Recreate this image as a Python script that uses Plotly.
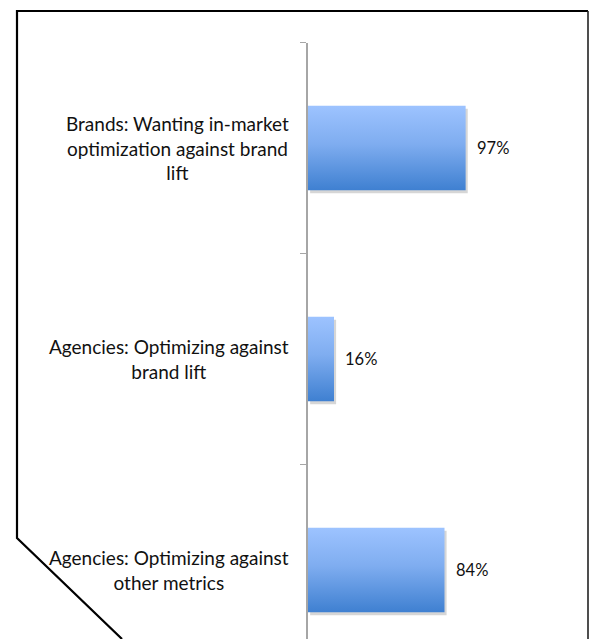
import plotly.graph_objects as go

# Survey results
categories = [
    "Brands: Wanting in-market<br>optimization against brand<br>lift",
    "Agencies: Optimizing against<br>brand lift",
    "Agencies: Optimizing against<br>other metrics",
]
values = [97, 16, 84]
value_labels = ["97%", "16%", "84%"]

W, H = 591, 639
BAR_HALF = 0.2
TOP_COLOR = "#9dc3ff"
BOTTOM_COLOR = "#3f80d1"
FONT = "Lato, 'Open Sans', sans-serif"

# pixel-based layout helpers (figure margins are zero, so paper == page)
def px(x):
    return x / W

def py(y):
    return 1 - y / H

fig = go.Figure()

for i, v in enumerate(values):
    # soft drop shadow under each bar
    sx, sy = 1.3, 0.014
    fig.add_trace(go.Scatter(
        x=[sx, v + sx, v + sx, sx, sx],
        y=[i - BAR_HALF + sy, i - BAR_HALF + sy, i + BAR_HALF + sy, i + BAR_HALF + sy, i - BAR_HALF + sy],
        mode="lines", line=dict(width=0), fill="toself",
        fillcolor="rgba(0,0,0,0.16)", hoverinfo="skip", showlegend=False,
    ))
    # bar with vertical gradient fill (light on top, darker at the bottom)
    fig.add_trace(go.Scatter(
        x=[0, v, v, 0, 0],
        y=[i - BAR_HALF, i - BAR_HALF, i + BAR_HALF, i + BAR_HALF, i - BAR_HALF],
        mode="lines", line=dict(width=0), fill="toself",
        fillgradient=dict(type="vertical",
                          colorscale=[[0, BOTTOM_COLOR], [0.55, "#7fadf0"], [1, TOP_COLOR]]),
        hoverinfo="skip", showlegend=False,
    ))

annotations = []
for i, (cat, v, lab) in enumerate(zip(categories, values, value_labels)):
    annotations.append(dict(
        x=px(291), xref="paper", y=i, yref="y", text=cat,
        xanchor="right", yanchor="middle", align="center", showarrow=False,
        font=dict(family=FONT, size=19, color="#111111"),
    ))
    annotations.append(dict(
        x=v, xref="x", y=i, yref="y", text=lab, xanchor="left", yanchor="middle",
        xshift=9, showarrow=False,
        font=dict(family=FONT, size=16.5, color="#111111"),
    ))

top_px = 42.5
unit_px = 211.0
y_bottom = -0.5 + (H - top_px) / unit_px
x_scale = 1.625
x_left_px = 308
x_max = (W - x_left_px) / x_scale

# frame: left edge with cut corner, top edge, right edge
frame = (f"M {px(122)},{py(639)} L {px(17)},{py(538)} L {px(17)},{py(11)} "
         f"L {px(588)},{py(11)}")
shapes = [
    dict(type="path", xref="paper", yref="paper", path=frame,
         line=dict(color="#000000", width=2.2)),
    dict(type="line", xref="paper", yref="paper", x0=px(588), x1=px(588),
         y0=py(11), y1=py(639), line=dict(color="#222222", width=1.6)),
]

fig.update_layout(
    width=W, height=H,
    margin=dict(l=0, r=0, t=0, b=0),
    paper_bgcolor="white", plot_bgcolor="white",
    xaxis=dict(domain=[px(x_left_px), 1], range=[0, x_max], visible=False, fixedrange=True),
    yaxis=dict(domain=[0, py(top_px)], range=[y_bottom, -0.5],
               showgrid=False, zeroline=False,
               showline=True, linecolor="#a6a6a6", linewidth=1.6,
               tickmode="array", tickvals=[-0.5, 0.5, 1.5],
               ticks="outside", ticklen=6, tickcolor="#a6a6a6", tickwidth=1.4,
               showticklabels=False, fixedrange=True),
    annotations=annotations,
    shapes=shapes,
    showlegend=False,
)

fig.write_html("out.html")
